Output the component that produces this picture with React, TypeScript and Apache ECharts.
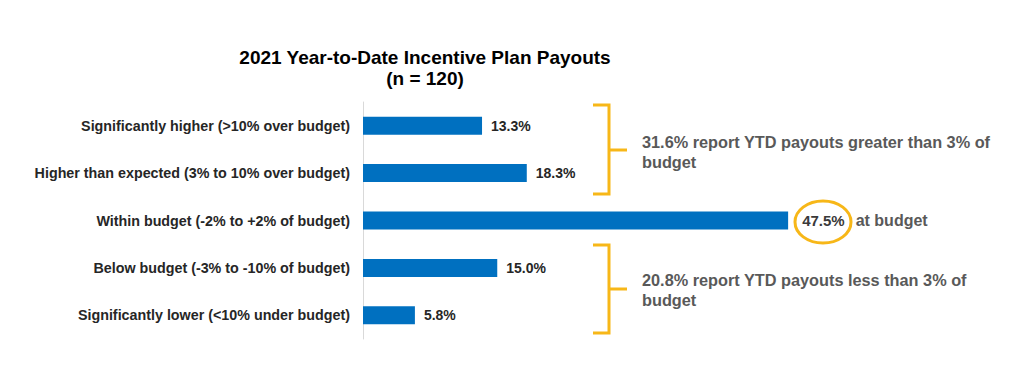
import React, { useEffect, useRef } from "react";
import * as echarts from "echarts";

const categories = [
  "Significantly higher (>10% over budget)",
  "Higher than expected (3% to 10% over budget)",
  "Within budget (-2% to +2% of budget)",
  "Below budget (-3% to -10% of budget)",
  "Significantly lower (<10% under budget)",
];
const values = [13.3, 18.3, 47.5, 15.0, 5.8];
const highlightIndex = 2;
const titleText = "2021 Year-to-Date Incentive Plan Payouts\n(n = 120)";
const noteHigher = "31.6% report YTD payouts greater than 3% of\nbudget";
const noteLower = "20.8% report YTD payouts less than 3% of\nbudget";
const noteMiddle = "at budget";

const FONT = "'Liberation Sans', Arial, sans-serif";
const GOLD = "#F7B718";
const GRAY = "#595959";
const DARK = "#262626";

export default function App() {
  const ref = useRef<HTMLDivElement>(null);
  useEffect(() => {
    document.body.style.margin = "0";
    const chart = echarts.init(ref.current!, null, { renderer: "svg" });
    const seriesData = values.map((v, i) =>
      i === highlightIndex ? { value: v, label: { distance: 14 } } : v
    );
    chart.setOption({
      animation: false,
      backgroundColor: "#ffffff",
      title: {
        text: titleText,
        left: 420,
        top: 42,
        textAlign: "center",
        textStyle: {
          fontFamily: FONT,
          fontSize: 19,
          fontWeight: "bold",
          color: "#000000",
          lineHeight: 21,
          align: "center",
        },
      },
      grid: { left: 363, top: 102, width: 537, height: 237 },
      xAxis: {
        type: "value",
        min: 0,
        max: 60,
        show: false,
      },
      yAxis: {
        type: "category",
        data: categories,
        inverse: true,
        axisTick: { show: false },
        axisLine: { show: true, lineStyle: { color: "#D9D9D9", width: 1 } },
        axisLabel: {
          fontFamily: FONT,
          fontSize: 14.3,
          fontWeight: "bold",
          color: DARK,
          margin: 13,
        },
      },
      series: [
        {
          type: "bar",
          data: seriesData,
          barWidth: 18,
          itemStyle: { color: "#0070C0" },
          label: {
            show: true,
            position: "right",
            distance: 9,
            fontFamily: FONT,
            fontSize: 14,
            fontWeight: "bold",
            color: DARK,
            formatter: (p: any) =>
              p.dataIndex === highlightIndex
                ? `{v|${Number(p.value).toFixed(1)}%}{n|${noteMiddle}}`
                : `${Number(p.value).toFixed(1)}%`,
            rich: {
              v: { fontFamily: FONT, fontSize: 15, fontWeight: "bold", color: "#3a3a3a" },
              n: {
                fontFamily: FONT,
                fontSize: 16,
                fontWeight: "bold",
                color: GRAY,
                padding: [0, 0, 0, 11],
              },
            },
          },
        },
      ],
      graphic: [
        {
          type: "ellipse",
          shape: { cx: 823, cy: 222, rx: 28, ry: 21 },
          style: { fill: "none", stroke: GOLD, lineWidth: 3 },
        },
        {
          type: "polyline",
          shape: { points: [[593, 105], [609, 105], [609, 194], [593, 194]] },
          style: { fill: "none", stroke: GOLD, lineWidth: 3 },
        },
        {
          type: "line",
          shape: { x1: 609, y1: 150, x2: 627, y2: 150 },
          style: { stroke: GOLD, lineWidth: 3 },
        },
        {
          type: "polyline",
          shape: { points: [[593, 245], [609, 245], [609, 333], [593, 333]] },
          style: { fill: "none", stroke: GOLD, lineWidth: 3 },
        },
        {
          type: "line",
          shape: { x1: 609, y1: 289, x2: 627, y2: 289 },
          style: { stroke: GOLD, lineWidth: 3 },
        },
        {
          type: "text",
          x: 642,
          y: 132,
          style: {
            text: noteHigher,
            fontFamily: FONT,
            fontSize: 16.3,
            fontWeight: "bold",
            fill: GRAY,
            lineHeight: 20,
          },
        },
        {
          type: "text",
          x: 642,
          y: 270,
          style: {
            text: noteLower,
            fontFamily: FONT,
            fontSize: 16.3,
            fontWeight: "bold",
            fill: GRAY,
            lineHeight: 20,
          },
        },
      ],
    });
    return () => chart.dispose();
  }, []);
  return <div ref={ref} style={{ width: 1024, height: 388 }} />;
}
